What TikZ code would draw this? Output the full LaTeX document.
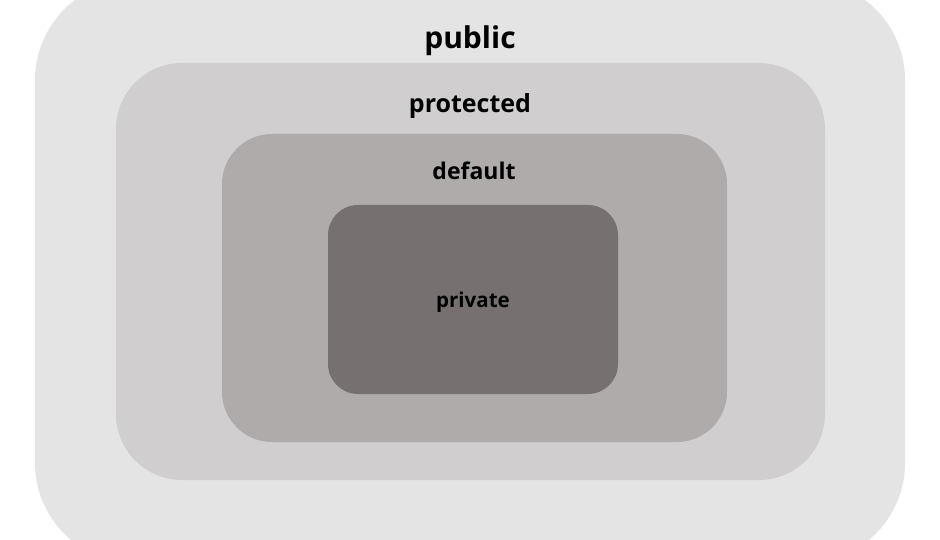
\documentclass[tikz,border=0pt]{standalone}
\usepackage{fontspec}
\setmainfont{Open Sans}
\definecolor{publicgray}{RGB}{229,228,228}
\definecolor{protectedgray}{RGB}{208,206,206}
\definecolor{defaultgray}{RGB}{175,171,171}
\definecolor{privategray}{RGB}{118,113,112}
\tikzset{lvl/.style={inner sep=0pt, anchor=center}}
\begin{document}
\begin{tikzpicture}[x=1pt,y=-1pt]
\useasboundingbox (0,0) rectangle (940,540);
\clip (0,0) rectangle (940,540);
\fill [publicgray, rounded corners=100pt] (35,-20) rectangle (905,563);
\fill [protectedgray, rounded corners=66pt] (116,63) rectangle (825,480);
\fill [defaultgray, rounded corners=50pt] (222,134) rectangle (727,442);
\fill [privategray, rounded corners=30pt] (328,205) rectangle (618,394);
\node[lvl, font=\fontsize{30}{36}\selectfont\bfseries] (public) at (470,41) {public};
\node[lvl, font=\fontsize{25}{30}\selectfont\bfseries] (protected) at (470,106) {protected};
\node[lvl, font=\fontsize{23}{28}\selectfont\bfseries] (default) at (474,171) {default};
\node[lvl, font=\fontsize{20.5}{25}\selectfont\bfseries] (private) at (473,302) {private};
\end{tikzpicture}
\end{document}
